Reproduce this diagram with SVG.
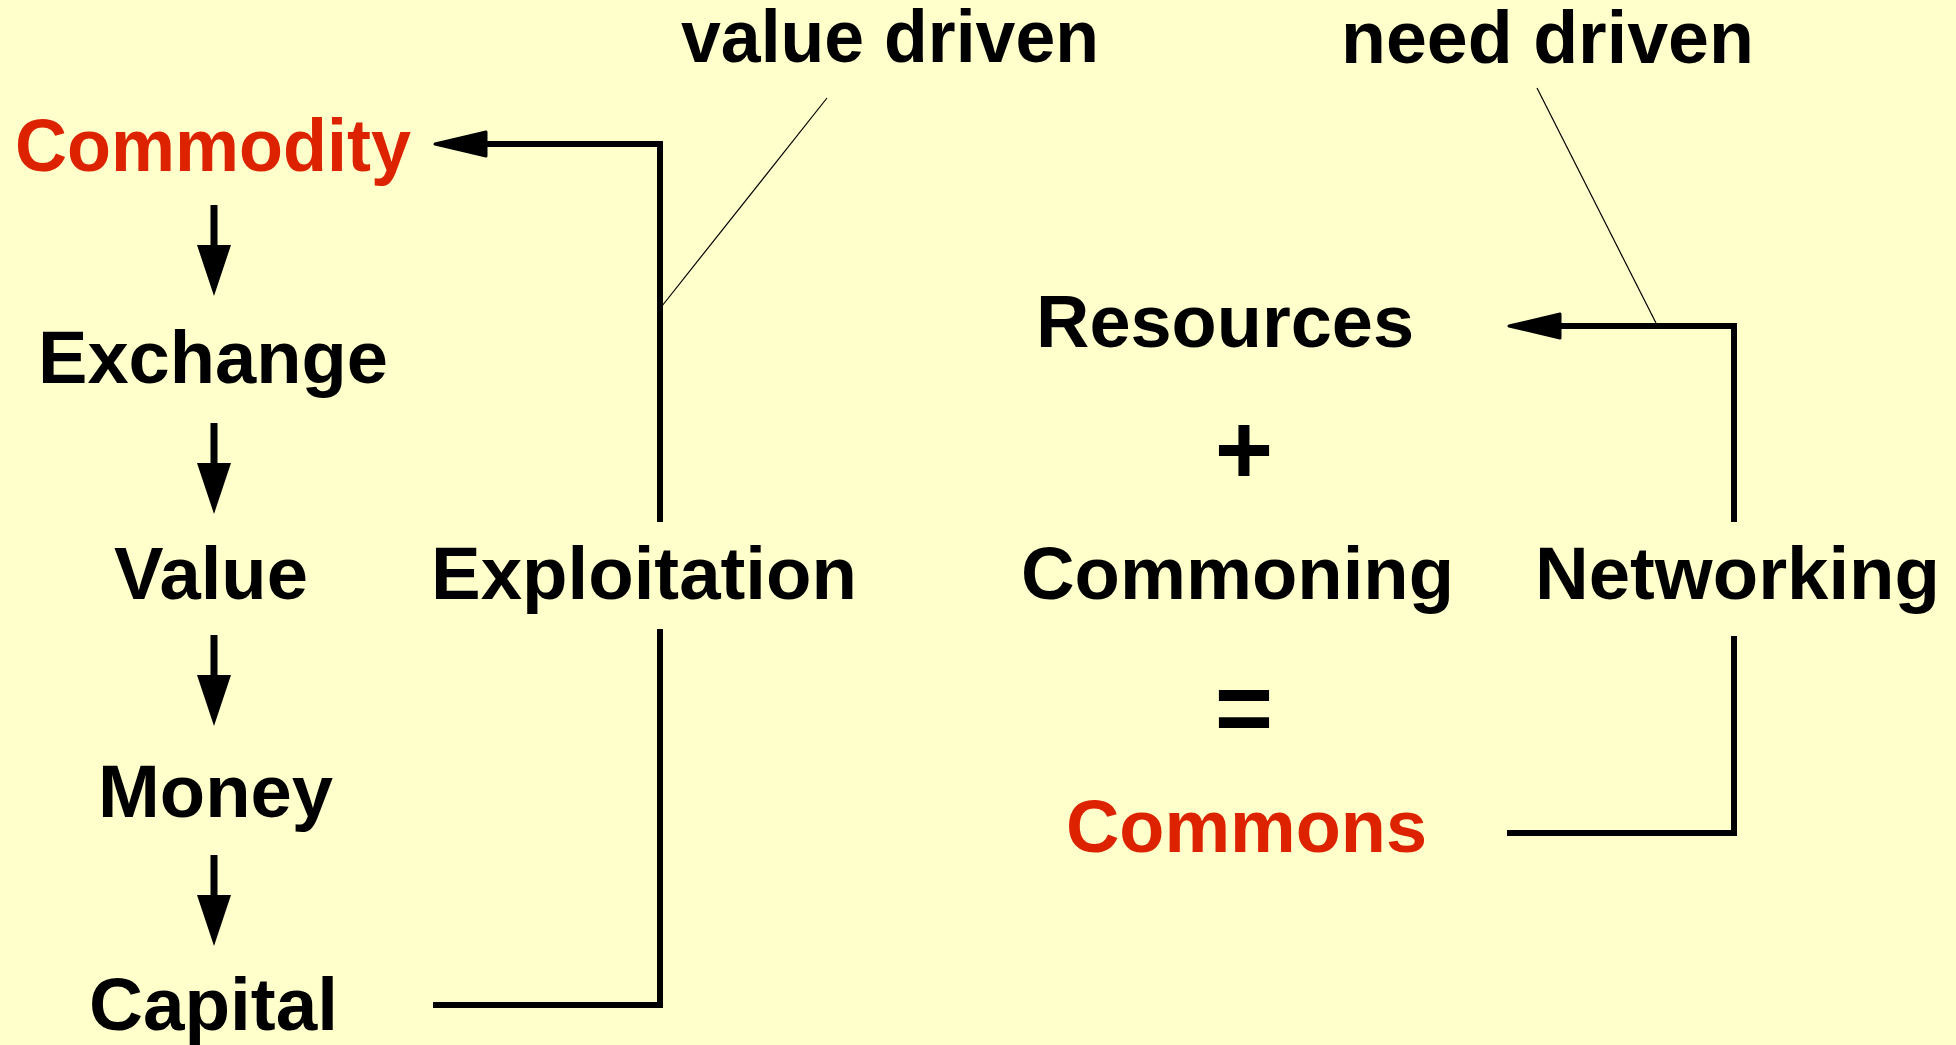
<svg xmlns="http://www.w3.org/2000/svg" width="1956" height="1045" viewBox="0 0 1956 1045">
<style>
.t{font-family:"Liberation Sans",Arial,sans-serif;font-weight:bold;font-size:74px;fill:#000}
.red{fill:#DD2200}
.sym{font-size:100px}
.ln{fill:none;stroke:#000;stroke-width:6}
.dn{fill:none;stroke:#000;stroke-width:7}
.thin{fill:none;stroke:#000;stroke-width:1.2}
</style>
<defs>
<marker id="headH" markerUnits="userSpaceOnUse" orient="auto" refX="0" refY="0" overflow="visible">
<path d="M0,-12 L51,0 L0,12 z" fill="#000" stroke="#000" stroke-width="3" stroke-linejoin="round"/>
</marker>
<marker id="headV" markerUnits="userSpaceOnUse" orient="auto" refX="0" refY="0" overflow="visible">
<path d="M0,-17 L51,0 L0,17 z" fill="#000"/>
</marker>
</defs>
<rect width="1956" height="1045" fill="#FFFFCC"/>
<g id="connectors">
<path class="ln" d="M660,522 V144 H486" marker-end="url(#headH)"/>
<path class="ln" d="M660,629 V1005 H433"/>
<path class="ln" d="M1734,522 V326 H1560" marker-end="url(#headH)"/>
<path class="ln" d="M1734,636 V833 H1507"/>
<path class="dn" d="M214,205 V245" marker-end="url(#headV)"/>
<path class="dn" d="M214,423 V463" marker-end="url(#headV)"/>
<path class="dn" d="M214,635 V675" marker-end="url(#headV)"/>
<path class="dn" d="M214,855 V895" marker-end="url(#headV)"/>
<path class="thin" d="M662,306 L827,98"/>
<path class="thin" d="M1656,323 L1537,88"/>
</g>
<g id="value-driven"><text class="t" x="681" y="62" textLength="418" lengthAdjust="spacingAndGlyphs">value driven</text></g>
<g id="need-driven"><text class="t" x="1341" y="63" textLength="413" lengthAdjust="spacingAndGlyphs">need driven</text></g>
<g id="commodity"><text class="t red" x="15" y="171" textLength="396" lengthAdjust="spacingAndGlyphs">Commodity</text></g>
<g id="exchange"><text class="t" x="38" y="383" textLength="350" lengthAdjust="spacingAndGlyphs">Exchange</text></g>
<g id="value"><text class="t" x="114" y="599" textLength="194" lengthAdjust="spacingAndGlyphs">Value</text></g>
<g id="money"><text class="t" x="98" y="817" textLength="235" lengthAdjust="spacingAndGlyphs">Money</text></g>
<g id="capital"><text class="t" x="89" y="1030" textLength="249" lengthAdjust="spacingAndGlyphs">Capital</text></g>
<g id="exploitation"><text class="t" x="431" y="599" textLength="426" lengthAdjust="spacingAndGlyphs">Exploitation</text></g>
<g id="resources"><text class="t" x="1036" y="347" textLength="378" lengthAdjust="spacingAndGlyphs">Resources</text></g>
<g id="plus"><text class="t sym" x="1244" y="484" text-anchor="middle">+</text></g>
<g id="commoning"><text class="t" x="1021" y="599" textLength="433" lengthAdjust="spacingAndGlyphs">Commoning</text></g>
<g id="networking"><text class="t" x="1535" y="599" textLength="405" lengthAdjust="spacingAndGlyphs">Networking</text></g>
<g id="equals"><text class="t sym" x="1244" y="742" text-anchor="middle">=</text></g>
<g id="commons"><text class="t red" x="1066" y="852" textLength="361" lengthAdjust="spacingAndGlyphs">Commons</text></g>
</svg>
